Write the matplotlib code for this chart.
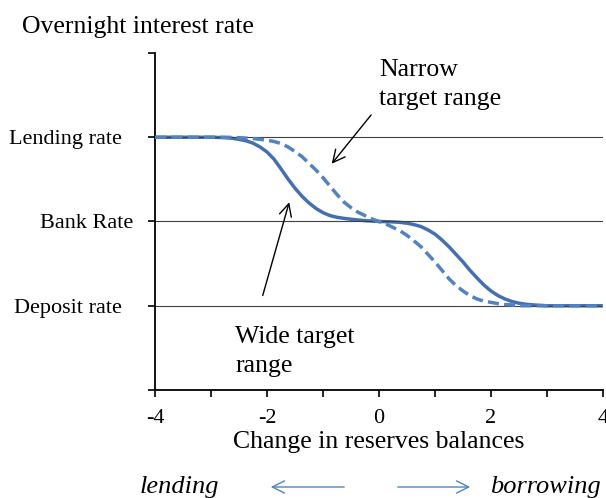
import matplotlib
matplotlib.use("Agg")
import matplotlib.pyplot as plt
from matplotlib.patches import FancyArrowPatch
from matplotlib.ticker import MultipleLocator

plt.rcParams['font.family'] = ['Liberation Serif', 'DejaVu Serif']

# change in reserves balances
reserves = [-4.0, -3.0, -2.75, -2.625, -2.5, -2.375, -2.25, -2.125, -2.0, -1.875, -1.75,
            -1.625, -1.5, -1.375, -1.25, -1.125, -1.0, -0.875, -0.75, -0.625, -0.5,
            -0.375, -0.25, -0.125, 0.0, 0.125, 0.25, 0.375, 0.5, 0.625, 0.75, 0.875,
            1.0, 1.125, 1.25, 1.375, 1.5, 1.625, 1.75, 1.875, 2.0, 2.125, 2.25, 2.375,
            2.5, 2.625, 2.75, 3.0, 4.0]
# overnight rate (1 = deposit rate, 2 = Bank Rate, 3 = lending rate)
wide_range = [3.0, 3.0, 2.995, 2.988, 2.975, 2.958, 2.93, 2.885, 2.825, 2.74, 2.625,
              2.505, 2.395, 2.30, 2.22, 2.155, 2.105, 2.07, 2.05, 2.037, 2.027,
              2.018, 2.01, 2.005, 2.0, 1.998, 1.995, 1.99, 1.98, 1.963, 1.94, 1.90,
              1.85, 1.78, 1.70, 1.61, 1.52, 1.42, 1.33, 1.245, 1.175, 1.12, 1.08, 1.05,
              1.03, 1.018, 1.01, 1.0, 1.0]
narrow_range = [3.0, 3.0, 3.0, 2.998, 2.995, 2.99, 2.985, 2.975, 2.965, 2.95, 2.925,
                2.885, 2.83, 2.77, 2.69, 2.61, 2.52, 2.42, 2.32, 2.23, 2.165,
                2.11, 2.07, 2.03, 2.0, 1.97, 1.93, 1.89, 1.835, 1.77, 1.70, 1.61,
                1.52, 1.42, 1.32, 1.24, 1.175, 1.12, 1.08, 1.055, 1.04, 1.025, 1.015, 1.01,
                1.0, 1.0, 1.0, 1.0, 1.0]

rate_levels = [1, 2, 3]
rate_names = ["Deposit rate  ", "Bank Rate", "Lending rate  "]
x_ticks = [-4, -2, 0, 2, 4]

blue_solid = "#4470B2"
blue_dash = "#5083C2"

fig = plt.figure(figsize=(6.06, 4.98), dpi=100)
ax = fig.add_axes([155/606, 108/498, 448/606, 337/498])

ax.plot(reserves, wide_range, color=blue_solid, lw=2.5, zorder=2)
for lvl in rate_levels:
    ax.axhline(lvl, color="#404040", lw=0.8, zorder=2.5)
ax.plot(reserves, narrow_range, color=blue_dash, lw=2.5, ls=(0, (3.2, 1.5)), zorder=3)

ax.set_xlim(-4, 4)
ax.set_ylim(0, 4)
ax.set_xticks(x_ticks)
ax.set_xticklabels([str(t) for t in x_ticks])
ax.xaxis.set_minor_locator(MultipleLocator(1))
ax.set_yticks([0] + rate_levels + [4])
ax.set_yticklabels([""] + rate_names + [""])

ax.spines['top'].set_visible(False)
ax.spines['right'].set_visible(False)
for s in ['left', 'bottom']:
    ax.spines[s].set_linewidth(1.3)
ax.tick_params(axis='both', which='both', direction='out', length=5, width=1.2,
               labelsize=16, colors='black')
ax.tick_params(axis='x', pad=9)
ax.tick_params(axis='y', pad=11)
ax.set_xlabel("Change in reserves balances", fontsize=18.5, va='center')
ax.xaxis.set_label_coords(0.5, -(442 - 390) / 337)

fig.text(22/606, 1 - 27/498, "Overnight interest rate", fontsize=18.5, va='center', ha='left')

# annotations
ax.annotate("", xy=(-0.875, 2.66), xytext=(-0.11, 3.29),
            arrowprops=dict(arrowstyle="->", color="black", lw=1, mutation_scale=22))
ax.text(0.0, 3.63, "Narrow\ntarget range", fontsize=18.5, ha='left', va='center',
        linespacing=1.4)
ax.annotate("", xy=(-1.59, 2.26), xytext=(-2.09, 1.09),
            arrowprops=dict(arrowstyle="->", color="black", lw=1, mutation_scale=22))
ax.text(-2.57, 0.46, "Wide target\nrange", fontsize=18.5, ha='left', va='center',
        linespacing=1.4)

# lending / borrowing direction
fig.text(179/606, 11/498, "lending", fontsize=19, style='italic', ha='center', va='center')
fig.text(545/606, 11/498, "borrowing", fontsize=19, style='italic', ha='center', va='center')
fig.patches.append(FancyArrowPatch(
    (347/606, 11/498), (268/606, 11/498), transform=fig.transFigure,
    arrowstyle="->", color=blue_dash, lw=1, mutation_scale=22))
fig.patches.append(FancyArrowPatch(
    (395/606, 11/498), (473/606, 11/498), transform=fig.transFigure,
    arrowstyle="->", color=blue_dash, lw=1, mutation_scale=22))

fig.savefig("out.png", dpi=100)
